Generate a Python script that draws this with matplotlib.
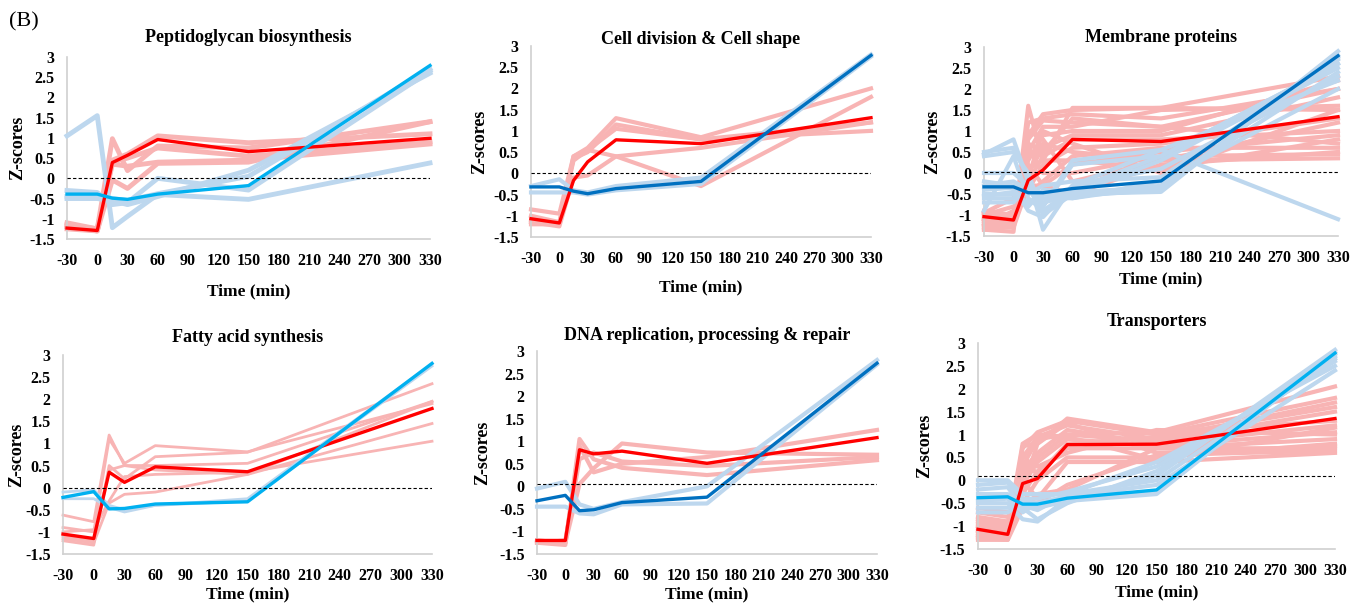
import matplotlib
matplotlib.use("Agg")
import matplotlib.pyplot as plt

plt.rcParams["font.family"] = ["Liberation Serif", "DejaVu Serif"]
plt.rcParams["axes.unicode_minus"] = False

# sampling times (min)
time = [-30, 0, 15, 30, 60, 150, 330]

# Peptidoglycan biosynthesis
pg_red_mean = [-1.23, -1.29, 0.39, 0.57, 0.96, 0.66, 0.99]
pg_blue_mean = [-0.39, -0.39, -0.49, -0.52, -0.39, -0.18, 2.79]
pg_red_genes = [
    [-1.1, -1.25, 0.98, 0.19, 0.8, 0.75, 1.4],
    [-1.2, -1.3, -0.04, -0.25, 0.37, 0.4, 1.4],
    [-1.15, -1.25, 0.45, 0.6, 1.05, 0.88, 1.1],
    [-1.2, -1.3, 0.4, 0.5, 0.75, 0.55, 0.9],
    [-1.25, -1.3, 0.35, 0.3, 0.4, 0.45, 0.85],
]
pg_blue_genes = [
    [1.05, 1.55, -1.22, -0.94, -0.4, -0.52, 0.38],
    [-0.3, -0.35, -0.65, -0.6, 0.0, -0.29, 2.65],
    [-0.5, -0.5, -0.55, -0.65, -0.45, 0.2, 2.6],
    [-0.45, -0.42, -0.5, -0.55, -0.38, 0.05, 2.7],
]

# Cell division & Cell shape
cd_red_mean = [-1.07, -1.17, -0.17, 0.27, 0.79, 0.70, 1.31]
cd_blue_mean = [-0.32, -0.32, -0.42, -0.48, -0.36, -0.19, 2.78]
cd_red_genes = [
    [-0.85, -0.95, 0.4, 0.6, 1.3, 0.85, 2.0],
    [-1.2, -1.2, 0.35, 0.5, 1.15, 0.8, 1.2],
    [-1.15, -1.25, -0.1, -0.05, 0.4, 0.6, 1.2],
    [-1.0, -1.15, 0.3, 0.55, 0.4, -0.3, 1.8],
    [-1.1, -1.2, 0.4, 0.55, 1.05, 0.8, 1.0],
]
cd_blue_genes = [
    [-0.3, -0.14, -0.4, -0.45, -0.3, -0.1, 2.8],
    [-0.45, -0.45, -0.45, -0.5, -0.4, -0.25, 2.75],
]

# Membrane proteins
mp_red_mean = [-1.04, -1.12, -0.17, 0.07, 0.80, 0.75, 1.34]
mp_blue_mean = [-0.33, -0.33, -0.47, -0.47, -0.37, -0.19, 2.79]
mp_red_genes = [
    [-1.35, -1.4, 1.6, 0.3, 1.55, 1.55, 1.5],
    [-1.3, -1.3, 0.9, 1.4, 1.5, 1.55, 2.3],
    [-1.2, -1.25, 0.8, 1.25, 1.2, 1.1, 2.0],
    [-1.1, -1.2, 0.5, 1.1, 1.1, 1.5, 1.6],
    [-1.0, -1.1, 0.3, 0.9, 1.0, 1.0, 2.2],
    [-0.9, -1.0, 0.0, 0.6, 0.9, 0.9, 1.8],
    [-1.25, -0.9, -0.2, 0.4, 0.8, 0.8, 1.0],
    [-1.15, -1.0, -0.4, 0.2, 0.6, 0.7, 1.3],
    [-1.0, -0.8, -0.5, -0.2, 0.4, 0.6, 0.6],
    [-0.95, -0.6, 0.2, -0.3, 0.2, 0.5, 0.9],
    [-1.2, -1.1, 0.6, 0.0, 0.0, 0.4, 0.45],
    [-1.3, -1.2, 1.0, 0.8, -0.2, 0.3, 0.35],
    [-1.1, -1.3, -0.3, -0.3, -0.5, 0.2, 0.5],
    [-1.05, -1.15, 0.4, 0.7, 0.5, 0.3, 1.2],
    [-0.95, -1.05, 0.1, 0.3, 0.3, 0.1, 0.8],
    [-1.2, -1.1, -0.1, 1.0, 0.7, 0.0, 1.5],
    [-1.1, -1.0, 0.7, 0.5, 1.3, 1.1, 0.7],
    [-1.35, -1.25, 1.2, 1.3, 1.4, 1.3, 2.0],
]
mp_blue_genes = [
    [0.45, 0.8, -0.2, -0.8, 0.3, 0.55, 2.2],
    [0.5, 0.6, -0.1, -1.35, -0.3, 0.55, -1.1],
    [0.4, 0.5, 0.0, -1.0, -0.5, 0.3, 2.5],
    [-0.9, 0.4, -0.6, -0.9, -0.4, 0.4, 2.6],
    [-0.6, -0.6, -0.4, -0.7, -0.55, -0.4, 2.8],
    [-0.5, -0.5, -0.7, -0.5, -0.5, -0.45, 2.9],
    [-0.2, -0.3, -0.5, -0.3, -0.2, -0.1, 2.7],
    [0.0, 0.0, -0.3, -0.6, -0.6, -0.3, 2.4],
    [-0.4, -0.35, -0.9, -1.05, -0.3, 0.1, 2.3],
    [-0.7, -0.7, -0.3, -0.5, -0.6, -0.2, 2.0],
    [-0.3, -0.2, -0.4, -0.8, 0.2, 0.4, 2.6],
    [-0.55, -0.45, -0.8, -0.4, -0.45, -0.35, 2.75],
]

# Fatty acid synthesis
fa_red_mean = [-1.05, -1.15, 0.35, 0.12, 0.47, 0.36, 1.79]
fa_blue_mean = [-0.22, -0.09, -0.48, -0.47, -0.37, -0.32, 2.81]
fa_red_genes = [
    [-0.62, -0.77, 1.19, 0.5, 0.5, 0.55, 1.95],
    [-0.9, -1.0, 1.1, 0.55, 0.95, 0.81, 1.9],
    [-1.2, -1.3, 0.5, 0.2, 0.7, 0.8, 2.35],
    [-1.15, -1.25, -0.35, -0.15, -0.1, 0.3, 1.45],
    [-1.0, -0.95, -0.3, 0.25, 0.3, 0.35, 1.05],
    [-1.1, -1.2, 0.4, 0.5, 0.4, 0.3, 1.95],
]
fa_blue_genes = [
    [-0.1, -0.05, -0.4, -0.5, -0.4, -0.25, 2.8],
    [-0.25, -0.25, -0.45, -0.55, -0.4, -0.3, 2.75],
]

# DNA replication, processing & repair
dna_red_mean = [-1.2, -1.2, 0.81, 0.72, 0.78, 0.51, 1.08]
dna_blue_mean = [-0.32, -0.2, -0.54, -0.52, -0.36, -0.24, 2.73]
dna_red_genes = [
    [-1.25, -1.3, 1.05, 0.6, 0.41, 0.25, 0.58],
    [-1.2, -1.25, 0.9, 0.31, 0.5, 0.65, 1.25],
    [-1.2, -1.25, 0.05, 0.4, 0.95, 0.75, 0.7],
    [-1.25, -1.2, 0.6, 0.75, 0.55, 0.45, 0.65],
]
dna_blue_genes = [
    [-0.05, 0.1, -0.4, -0.5, -0.35, 0.0, 2.8],
    [-0.45, -0.45, -0.6, -0.62, -0.4, -0.38, 2.7],
]

# Transporters
tr_red_mean = [-1.07, -1.18, -0.07, 0.04, 0.78, 0.79, 1.35]
tr_blue_mean = [-0.38, -0.36, -0.52, -0.52, -0.39, -0.21, 2.78]
tr_red_genes = [
    [-1.3, -1.3, 0.75, 0.8, 1.35, 1.05, 2.05],
    [-1.2, -1.25, 0.7, 1.05, 1.3, 1.0, 1.8],
    [-1.1, -1.2, 0.5, 0.95, 1.2, 0.9, 1.7],
    [-1.0, -1.1, 0.3, 0.9, 1.0, 0.85, 1.5],
    [-0.9, -1.0, 0.2, 0.6, 1.1, 0.8, 1.2],
    [-0.8, -0.9, -0.1, 0.4, 0.9, 0.75, 1.05],
    [-0.7, -0.8, -0.3, 0.2, 0.7, 0.7, 0.9],
    [-0.6, -0.7, -0.5, 0.0, 0.5, 0.5, 0.8],
    [-1.25, -1.3, -0.6, -0.3, -0.2, 0.7, 0.7],
    [-1.15, -1.2, 0.0, -0.4, 0.4, 0.4, 0.6],
    [-1.05, -1.15, 0.4, 0.3, 0.6, 1.1, 1.0],
    [-0.95, -1.0, -0.2, 0.8, 1.25, 0.6, 0.75],
    [-1.2, -1.25, 0.6, 0.1, 0.8, 0.95, 1.6],
    [-0.85, -0.95, 0.1, 0.5, 1.0, 1.05, 1.3],
    [-1.1, -1.15, -0.4, -0.5, -0.1, 0.55, 0.65],
    [-1.0, -1.05, 0.8, 1.0, 0.95, 0.45, 1.15],
]
tr_blue_genes = [
    [0.0, 0.0, -0.3, -0.3, -0.3, 0.4, 2.5],
    [-0.1, -0.05, -0.4, -0.4, -0.25, 0.3, 2.6],
    [-0.2, -0.15, -0.6, -0.85, -0.5, 0.2, 2.7],
    [-0.5, -0.5, -0.85, -0.9, -0.4, 0.1, 2.85],
    [-0.7, -0.7, -0.5, -0.6, -0.45, -0.3, 2.8],
    [-0.6, -0.6, -0.45, -0.5, -0.35, -0.1, 2.4],
    [-0.3, -0.3, -0.55, -0.65, -0.3, 0.0, 2.65],
    [-0.45, -0.4, -0.7, -0.5, -0.35, -0.25, 2.75],
]

titles = ["Peptidoglycan biosynthesis", "Cell division & Cell shape", "Membrane proteins",
          "Fatty acid synthesis", "DNA replication, processing & repair", "Transporters"]
baselines = [0.02, 0.0, 0.03, 0.0, 0.06, 0.1]
xticks = list(range(-30, 331, 30))
yticks = [-1.5, -1, -0.5, 0, 0.5, 1, 1.5, 2, 2.5, 3]

W, H = 1351, 603
# axes boxes in pixels: left, right, top, bottom, title y, xlabel y, ylabel x
boxes = [
    (67, 430, 57, 239, 38, 291, 18),
    (531, 871, 46, 237, 39, 287, 480),
    (984, 1338, 47, 236, 38, 279, 933),
    (63, 432, 355, 554, 337, 594, 17),
    (537, 877, 351, 554, 336, 594, 483),
    (978, 1335, 343, 549, 321, 592, 925),
]
panels = [
    (pg_red_genes, pg_blue_genes, pg_red_mean, pg_blue_mean, "#00B0F0", 3.5),
    (cd_red_genes, cd_blue_genes, cd_red_mean, cd_blue_mean, "#0070C0", 3.0),
    (mp_red_genes, mp_blue_genes, mp_red_mean, mp_blue_mean, "#0070C0", 3.0),
    (fa_red_genes, fa_blue_genes, fa_red_mean, fa_blue_mean, "#00B0F0", 2.0),
    (dna_red_genes, dna_blue_genes, dna_red_mean, dna_blue_mean, "#0070C0", 3.0),
    (tr_red_genes, tr_blue_genes, tr_red_mean, tr_blue_mean, "#00B0F0", 3.0),
]

fig = plt.figure(figsize=(W / 100, H / 100), dpi=100)

for (left, right, top, bottom, ty, xy, yx), title, base, panel in zip(boxes, titles, baselines, panels):
    red_genes, blue_genes, red_mean, blue_mean, blue_col, lw = panel
    ax = fig.add_axes([left / W, 1 - bottom / H, (right - left) / W, (bottom - top) / H])
    for g in red_genes:
        ax.plot(time, g, color="#F8B4B4", lw=lw, clip_on=False, zorder=2)
    for g in blue_genes:
        ax.plot(time, g, color="#BDD7EE", lw=lw, clip_on=False, zorder=3)
    ax.plot(time, red_mean, color="#FF0000", lw=2.4, clip_on=False, zorder=4)
    ax.plot(time, blue_mean, color=blue_col, lw=2.4, clip_on=False, zorder=5)
    ax.axhline(base, color="black", lw=0.8, ls=(0, (3, 2)), zorder=6)

    ax.set_xlim(-30, 330)
    ax.set_ylim(-1.5, 3)
    ax.set_xticks(xticks)
    ax.set_xticklabels([str(t) for t in xticks])
    ax.set_yticks(yticks)
    ax.set_yticklabels([f"{v:g}" for v in yticks])
    ax.tick_params(length=0, labelsize=11.5)
    ax.tick_params(axis="x", pad=10)
    ax.tick_params(axis="y", pad=9)
    for lab in ax.get_xticklabels() + ax.get_yticklabels():
        lab.set_fontweight("bold")
    for s in ["top", "right"]:
        ax.spines[s].set_visible(False)
    for s in ["left", "bottom"]:
        ax.spines[s].set_color("#D0D0D0")
        ax.spines[s].set_linewidth(1.2)

    cx = (left + right) / 2 / W
    fig.text(cx, 1 - ty / H, title, ha="center", va="center", fontsize=13, fontweight="bold")
    fig.text(cx, 1 - xy / H, "Time (min)", ha="center", va="center", fontsize=12.5, fontweight="bold")
    fig.text(yx / W, 1 - (top + bottom) / 2 / H, "Z-scores", ha="center", va="center",
             rotation=90, fontsize=13, fontweight="bold")

fig.text(9 / W, 1 - 22 / H, "(B)", ha="left", va="center", fontsize=16)

fig.savefig("out.png", dpi=100)
